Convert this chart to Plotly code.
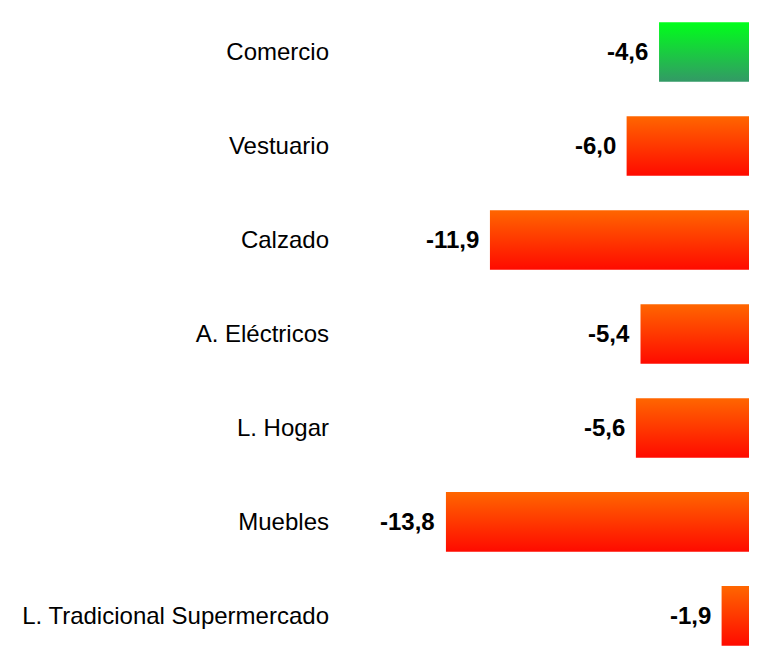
"""
Variación por rubro: barras horizontales con degradado.
"""
import plotly.graph_objects as go

categories = ['Comercio', 'Vestuario', 'Calzado', 'A. Eléctricos',
              'L. Hogar', 'Muebles', 'L. Tradicional Supermercado']
values = [-4.6, -6.0, -11.9, -5.4, -5.6, -13.8, -1.9]

# gradient colours (top, bottom)
green_grad = ('#00ff1a', '#339966')
orange_grad = ('#ff6600', '#ff0a00')

BAR_W = 0.635

fig = go.Figure()

for i, (cat, val) in enumerate(zip(categories, values)):
    top, bottom = green_grad if cat == 'Comercio' else orange_grad
    y0, y1 = i - BAR_W / 2, i + BAR_W / 2
    fig.add_trace(go.Scatter(
        x=[0, val, val, 0, 0],
        y=[y0, y0, y1, y1, y0],
        mode='lines',
        fill='toself',
        line=dict(width=0),
        fillgradient=dict(
            type='vertical',
            colorscale=[[0, top], [1, bottom]],
            start=y0,
            stop=y1,
        ),
        hoverinfo='skip',
        showlegend=False,
    ))
    # value label left of the bar
    fig.add_annotation(
        x=val, y=i,
        text=f'{val:.1f}'.replace('.', ','),
        xanchor='right', yanchor='middle',
        xshift=-9,
        showarrow=False,
        font=dict(family='Liberation Sans, Arial', size=24, color='black', weight='bold'),
    )

# pixel scale: ~23.2 px per unit on x, 94 px per category on y
fig.update_layout(
    width=757,
    height=648,
    margin=dict(l=336, r=0, t=0, b=0),
    plot_bgcolor='white',
    paper_bgcolor='white',
    font=dict(family='Liberation Sans, Arial', size=24, color='black'),
    showlegend=False,
)

fig.update_xaxes(
    range=[-18.2, -0.026],
    visible=False,
    showgrid=False,
    zeroline=False,
)

fig.update_yaxes(
    range=[6.426, -0.468],
    tickvals=list(range(len(categories))),
    ticktext=categories,
    showgrid=False,
    zeroline=False,
    showline=False,
    ticks='',
    ticklabelstandoff=14,
)

fig.write_html('out.html')
